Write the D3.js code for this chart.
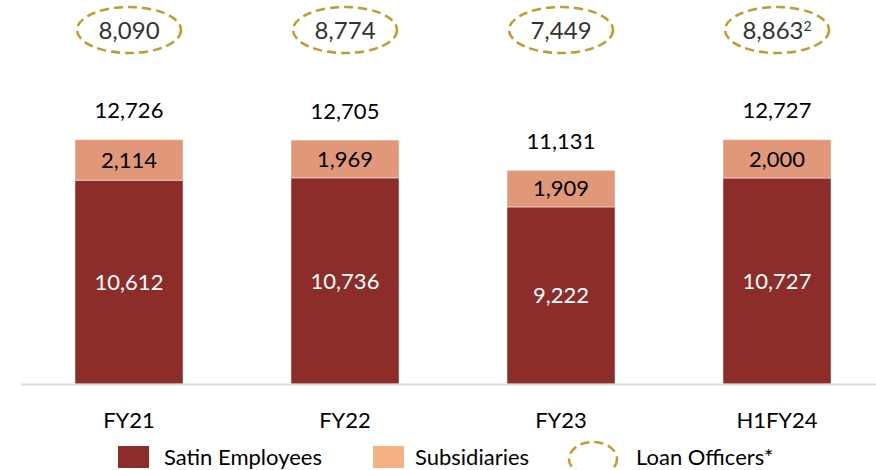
<!DOCTYPE html>
<html>
<head>
<meta charset="utf-8">
<script src="https://cdn.jsdelivr.net/npm/d3@7"></script>
<style>
  body { margin: 0; background: #fff; }
  svg { display: block; font-family: Lato, "Open Sans", sans-serif; }
</style>
</head>
<body>
<svg id="chart"></svg>
<script>
// données
const periods = ["FY21", "FY22", "FY23", "H1FY24"];
const satinEmployees = [10612, 10736, 9222, 10727];
const subsidiaries = [2114, 1969, 1909, 2000];
const loanOfficers = [8090, 8774, 7449, 8863];
const loanNotes = ["", "", "", "2"];

const width = 876, height = 470;
const baseY = 384;

const svg = d3.select("#chart").attr("width", width).attr("height", height);

const data = periods.map((p, i) => ({
    period: p,
    satin: satinEmployees[i],
    subs: subsidiaries[i],
    total: satinEmployees[i] + subsidiaries[i],
    loan: loanOfficers[i],
    note: loanNotes[i]
}));

const x = d3.scaleBand().domain(periods).range([21, 885])
    .paddingInner(0.5).paddingOuter(0.25);
const y = d3.scaleLinear().domain([0, 14000]).range([baseY, baseY - 14000 * 0.0192]);

const color = d3.scaleOrdinal().domain(["satin", "subs"]).range(["#8C2D2A", "#E09879"]);

const stacked = d3.stack().keys(["satin", "subs"])(data);

// barres empilées
const layers = svg.selectAll(".layer")
    .data(stacked)
    .enter()
    .append("g")
    .attr("class", "layer")
    .style("fill", d => color(d.key));

layers.selectAll("rect")
    .data(d => d)
    .enter()
    .append("rect")
    .attr("x", d => x(d.data.period))
    .attr("y", d => y(d[1]))
    .attr("width", x.bandwidth())
    .attr("height", d => y(d[0]) - y(d[1]))
    .attr("stroke", "rgba(255,255,255,0.45)")
    .attr("stroke-width", 1);

// axe des x
const axis = svg.append("g")
    .attr("transform", `translate(0,${baseY})`)
    .call(d3.axisBottom(x).tickSize(0));
axis.select(".domain").attr("stroke", "#d9d9d9").attr("stroke-width", 2);
axis.selectAll("text")
    .attr("y", 36)
    .attr("dy", "0.35em")
    .attr("fill", "#000")
    .style("font-size", "22px")
    .style("font-family", "Lato, sans-serif");

// étiquettes des segments
svg.selectAll(".lbl-satin")
    .data(data)
    .enter()
    .append("text")
    .attr("x", d => x(d.period) + x.bandwidth() / 2)
    .attr("y", d => (y(0) + y(d.satin)) / 2)
    .attr("dy", "0.35em")
    .attr("text-anchor", "middle")
    .attr("fill", "#fff")
    .style("font-size", "22px")
    .text(d => d3.format(",")(d.satin));

svg.selectAll(".lbl-subs")
    .data(data)
    .enter()
    .append("text")
    .attr("x", d => x(d.period) + x.bandwidth() / 2)
    .attr("y", d => (y(d.satin) + y(d.total)) / 2)
    .attr("dy", "0.35em")
    .attr("text-anchor", "middle")
    .attr("fill", "#000")
    .style("font-size", "22px")
    .text(d => d3.format(",")(d.subs));

svg.selectAll(".lbl-total")
    .data(data)
    .enter()
    .append("text")
    .attr("x", d => x(d.period) + x.bandwidth() / 2)
    .attr("y", d => y(d.total) - 29)
    .attr("dy", "0.35em")
    .attr("text-anchor", "middle")
    .attr("fill", "#000")
    .style("font-size", "22px")
    .text(d => d3.format(",")(d.total));

// ovales des loan officers
const oval = svg.selectAll(".oval")
    .data(data)
    .enter()
    .append("g")
    .attr("transform", d => `translate(${x(d.period) + x.bandwidth() / 2},30)`);

oval.append("ellipse")
    .attr("rx", 52)
    .attr("ry", 23)
    .attr("fill", "none")
    .attr("stroke", "#C39A2E")
    .attr("stroke-width", 2.5)
    .attr("stroke-dasharray", "9,5");

const ovalText = oval.append("text")
    .attr("text-anchor", "middle")
    .attr("dy", "0.36em")
    .attr("fill", "#333")
    .style("font-size", "24px");
ovalText.append("tspan").text(d => d3.format(",")(d.loan));
ovalText.append("tspan")
    .attr("dy", "-0.55em")
    .style("font-size", "14px")
    .text(d => d.note);

// légende
const legend = svg.append("g").attr("transform", "translate(0,457)");

legend.append("rect").attr("x", 118).attr("y", -11).attr("width", 31).attr("height", 22).attr("fill", "#8C2D2A");
legend.append("text").attr("x", 164).attr("dy", "0.35em").style("font-size", "22px").text("Satin Employees");

legend.append("rect").attr("x", 373).attr("y", -11).attr("width", 31).attr("height", 22).attr("fill", "#F4B183");
legend.append("text").attr("x", 415).attr("dy", "0.35em").style("font-size", "22px").text("Subsidiaries");

legend.append("ellipse").attr("cx", 593).attr("cy", 2).attr("rx", 24).attr("ry", 17)
    .attr("fill", "none").attr("stroke", "#C39A2E").attr("stroke-width", 2.5).attr("stroke-dasharray", "9,5");
legend.append("text").attr("x", 636).attr("dy", "0.35em").style("font-size", "22px").text("Loan Officers*");
</script>
</body>
</html>
